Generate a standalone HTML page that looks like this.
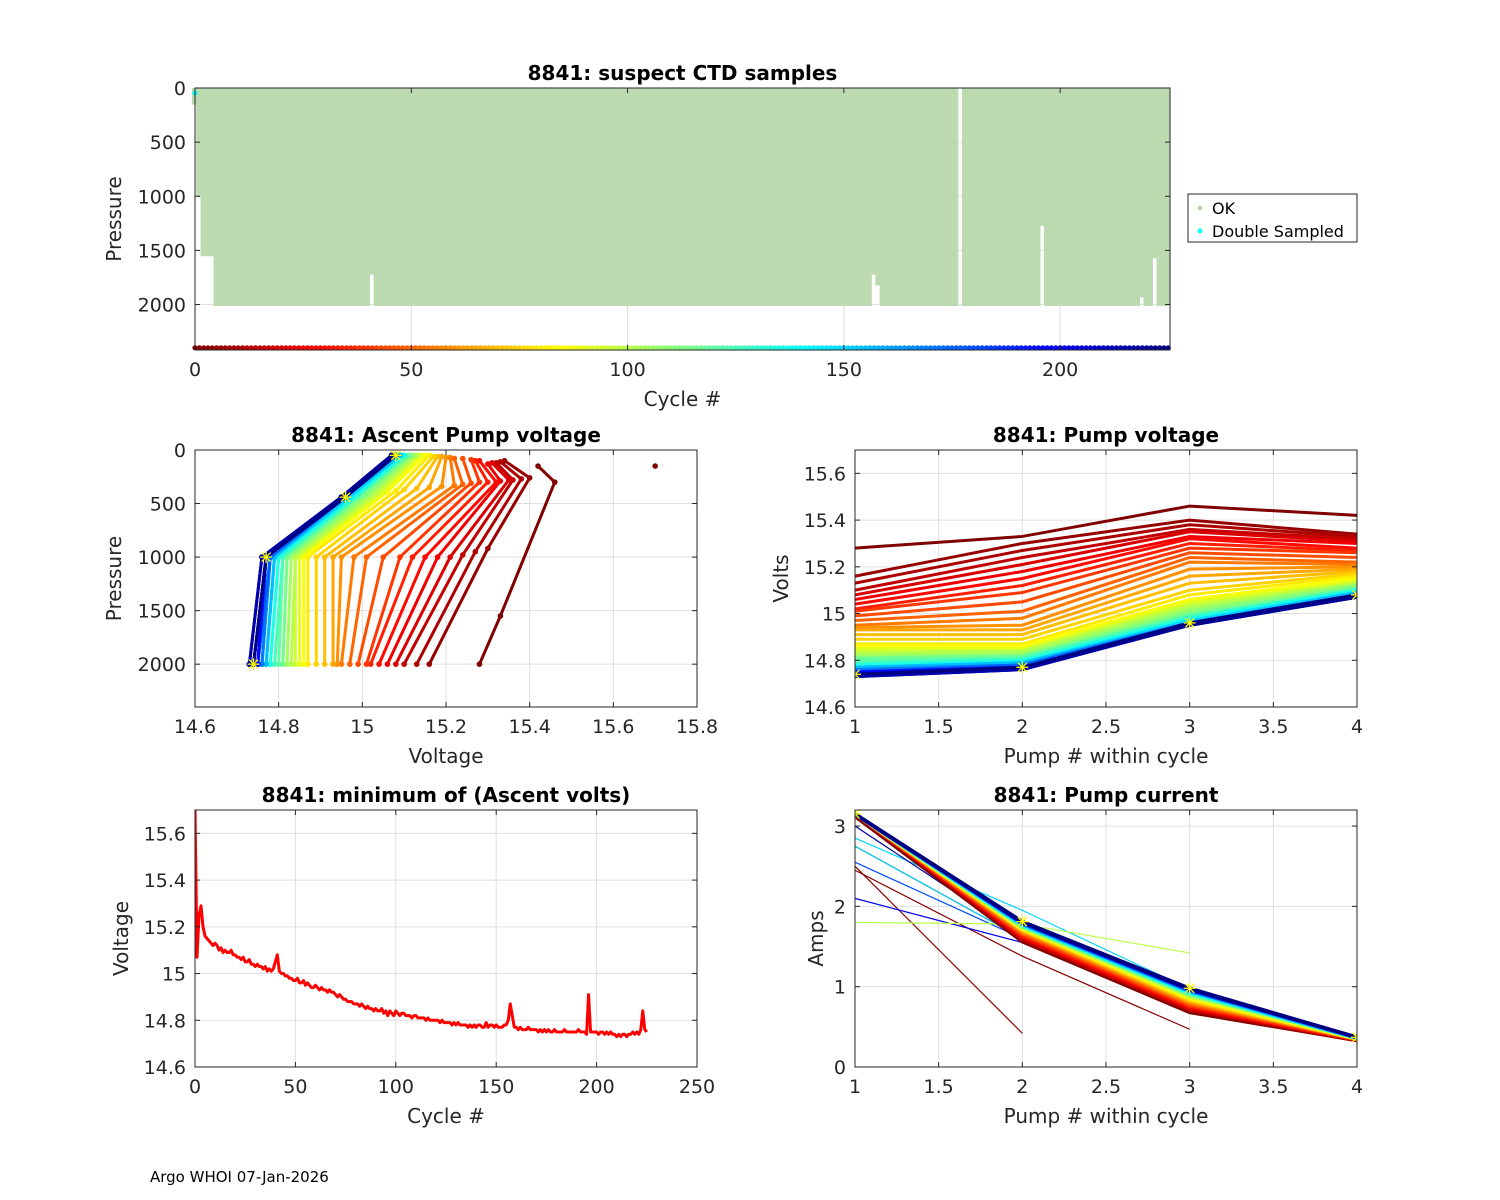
<!DOCTYPE html>
<html><head><meta charset="utf-8"><style>
html,body{margin:0;padding:0;background:#fff;}
svg{display:block;font-family:"DejaVu Sans","Liberation Sans",sans-serif;}
</style></head><body>
<svg id="fig" width="1500" height="1200" viewBox="0 0 1500 1200" xmlns="http://www.w3.org/2000/svg">
<rect width="1500" height="1200" fill="#fff"/>
<text x="150" y="1182" font-size="15" fill="#000">Argo WHOI 07-Jan-2026</text>
</svg>
<script>
// ---------------- DATA ----------------
const minVoltCycles = 226;
const minVolts = [
15.70,15.07,15.25,15.29,15.20,15.16,15.15,15.14,15.13,15.12,15.13,15.12,15.10,15.11,15.09,15.10,15.09,15.09,15.10,15.08,
15.08,15.07,15.07,15.06,15.07,15.05,15.05,15.06,15.04,15.04,15.03,15.04,15.03,15.03,15.02,15.03,15.01,15.02,15.01,15.02,
15.05,15.08,15.01,15.00,15.00,14.99,14.99,14.98,14.98,14.97,14.97,14.98,14.96,14.96,14.97,14.95,14.96,14.95,14.94,14.94,
14.95,14.94,14.93,14.94,14.93,14.93,14.92,14.93,14.92,14.92,14.91,14.90,14.91,14.90,14.89,14.89,14.88,14.88,14.88,14.87,
14.87,14.87,14.86,14.87,14.86,14.85,14.86,14.85,14.85,14.84,14.85,14.84,14.84,14.85,14.83,14.84,14.82,14.84,14.83,14.82,
14.84,14.83,14.82,14.83,14.83,14.82,14.82,14.82,14.81,14.82,14.82,14.81,14.81,14.81,14.81,14.80,14.81,14.80,14.80,14.80,
14.80,14.80,14.79,14.80,14.79,14.79,14.79,14.79,14.78,14.79,14.78,14.79,14.78,14.78,14.78,14.78,14.77,14.78,14.77,14.78,
14.77,14.78,14.78,14.77,14.77,14.79,14.77,14.78,14.78,14.77,14.78,14.77,14.77,14.77,14.78,14.78,14.80,14.87,14.82,14.77,
14.77,14.76,14.77,14.76,14.76,14.76,14.77,14.76,14.76,14.76,14.76,14.75,14.76,14.75,14.76,14.75,14.76,14.75,14.75,14.76,
14.75,14.75,14.75,14.75,14.76,14.75,14.75,14.75,14.75,14.75,14.75,14.76,14.75,14.75,14.75,14.74,14.91,14.75,14.75,14.75,
14.75,14.74,14.75,14.75,14.74,14.75,14.74,14.75,14.74,14.74,14.73,14.74,14.73,14.74,14.74,14.73,14.74,14.74,14.75,14.74,
14.75,14.74,14.76,14.84,14.76,14.75];

const maxPressureDefault = 2010;
const maxPressureExceptionCycles = [0, 1, 2, 3, 4, 41, 157, 158, 177, 196, 219, 222];
const maxPressureExceptionValues = [150, 1000, 1550, 1550, 1550, 1720, 1720, 1820, 0, 1270, 1930, 1570];
const doubleSampledCycles = [0];
const doubleSampledPressures = [140];

const pumpCycles = [0,5,10,15,20,25,30,35,40,45,50,55,60,65,70,75,80,85,90,95,100,105,110,115,120,125,130,135,140,145,150,155,160,165,170,175,180,185,190,195,200,205,210,215,220,225];
const pump1Volts = [15.28,15.16,15.13,15.10,15.08,15.06,15.04,15.02,15.01,14.99,14.97,14.95,14.94,14.93,14.91,14.89,14.87,14.86,14.85,14.84,14.83,14.82,14.81,14.81,14.80,14.79,14.78,14.78,14.77,14.77,14.77,14.77,14.76,14.76,14.76,14.75,14.75,14.75,14.75,14.75,14.74,14.74,14.73,14.73,14.74,14.74];
const pump2Volts = [15.33,15.30,15.27,15.24,15.21,15.18,15.15,15.12,15.09,15.05,15.01,14.98,14.95,14.93,14.91,14.89,14.87,14.86,14.85,14.84,14.84,14.83,14.82,14.82,14.81,14.81,14.80,14.80,14.79,14.79,14.79,14.79,14.78,14.78,14.78,14.78,14.77,14.77,14.77,14.77,14.77,14.77,14.76,14.76,14.77,14.77];
const pump3Volts = [15.46,15.40,15.38,15.36,15.35,15.33,15.32,15.30,15.28,15.26,15.24,15.22,15.19,15.16,15.13,15.10,15.08,15.06,15.05,15.04,15.03,15.02,15.01,15.00,14.99,14.99,14.98,14.98,14.97,14.97,14.97,14.96,14.96,14.96,14.96,14.96,14.95,14.95,14.95,14.95,14.95,14.95,14.95,14.95,14.95,14.96];
const pump4Volts = [15.42,15.34,15.33,15.32,15.31,15.30,15.28,15.27,15.26,15.24,15.22,15.21,15.20,15.19,15.18,15.17,15.16,15.15,15.14,15.13,15.13,15.12,15.12,15.11,15.11,15.10,15.10,15.10,15.09,15.09,15.09,15.09,15.08,15.08,15.08,15.08,15.08,15.08,15.08,15.08,15.07,15.07,15.07,15.07,15.07,15.08];
const pump1Pressure = [2000,2000,2000,2000,2000,2000,2000,2000,2000,2000,2000,2000,2000,2000,2000,2000,2000,2000,2000,2000,2000,2000,2000,2000,2000,2000,2000,2000,2000,2000,2000,2000,2000,2000,2000,2000,2000,2000,2000,2000,2000,2000,2000,2000,2000,2000];
const pump2Pressure = [1550,920,950,980,1000,1000,1000,1000,1000,1000,1000,1000,1000,1000,1000,1000,1000,1000,1000,1000,1000,1000,1000,1000,1000,1000,1000,1000,1000,1000,1000,1000,1000,1000,1000,1000,1000,1000,1000,1000,1000,1000,1000,1000,1000,1000];
const pump3Pressure = [300,260,270,280,280,290,300,300,300,310,320,330,340,350,360,370,380,390,400,400,410,410,420,420,430,430,430,440,440,440,440,440,440,440,440,440,440,440,440,440,440,440,440,440,440,440];
const pump4Pressure = [150,100,110,120,120,130,100,100,90,80,80,70,70,60,60,60,50,50,50,50,50,50,50,50,50,50,50,50,50,50,50,50,50,50,50,50,50,50,50,50,50,50,50,50,50,50];

const pump1Amps = [3.12,3.15,3.15,3.15,3.15,3.15,3.15,3.15,3.15,3.15,3.15,3.15,3.15,3.15,3.15,3.15,3.15,3.15,3.15,3.15,3.15,3.15,3.15,3.15,3.15,3.15,3.15,3.15,3.15,3.15,3.15,3.15,3.15,3.15,3.15,3.15,3.15,3.15,3.15,3.15,3.15,3.15,3.15,3.15,3.15,3.15];
const pump2Amps = [1.56,1.58,1.59,1.60,1.61,1.62,1.63,1.64,1.65,1.66,1.67,1.68,1.69,1.70,1.70,1.71,1.72,1.72,1.73,1.73,1.74,1.74,1.75,1.75,1.76,1.76,1.76,1.77,1.77,1.77,1.78,1.78,1.78,1.78,1.79,1.79,1.79,1.79,1.80,1.80,1.80,1.80,1.80,1.80,1.81,1.81];
const pump3Amps = [0.68,0.70,0.71,0.72,0.73,0.74,0.75,0.76,0.77,0.78,0.79,0.80,0.81,0.82,0.83,0.84,0.85,0.86,0.87,0.88,0.89,0.89,0.90,0.91,0.91,0.92,0.92,0.93,0.93,0.94,0.94,0.94,0.95,0.95,0.95,0.96,0.96,0.96,0.96,0.97,0.97,0.97,0.97,0.97,0.97,0.98];
const pump4Amps = [0.33,0.33,0.33,0.34,0.34,0.34,0.34,0.34,0.34,0.35,0.35,0.35,0.35,0.35,0.35,0.35,0.35,0.35,0.35,0.36,0.36,0.36,0.36,0.36,0.36,0.36,0.36,0.36,0.36,0.36,0.36,0.36,0.36,0.37,0.37,0.37,0.37,0.37,0.37,0.37,0.37,0.37,0.37,0.37,0.37,0.37];
const outlierAmpCycles = [1, 2, 3, 150, 150, 180, 200, 100, 220];
const outlierAmps1 = [2.50, 2.45, 2.75, 2.85, 2.75, 2.55, 2.10, 1.80, 3.00];
const outlierAmps2 = [0.42, 1.38, 1.60, 1.95, 1.60, 1.60, 1.55, 1.78, 1.62];
const outlierAmps3 = [null, 0.47, null, 0.97, null, null, null, 1.42, null];

// ---------------- HELPERS ----------------
const svg = document.getElementById('fig');
const NS = 'http://www.w3.org/2000/svg';
function el(tag, attrs, parent) {
  const e = document.createElementNS(NS, tag);
  for (const k in attrs) e.setAttribute(k, attrs[k]);
  (parent || svg).appendChild(e);
  return e;
}
function jet(t) {
  const c = v => Math.max(0, Math.min(1, v));
  const r = c(1.5 - Math.abs(4 * t - 3)), g = c(1.5 - Math.abs(4 * t - 2)), b = c(1.5 - Math.abs(4 * t - 1));
  return 'rgb(' + Math.round(r * 255) + ',' + Math.round(g * 255) + ',' + Math.round(b * 255) + ')';
}
function cycleColor(c) { return jet(1 - c / 225); }
function lin(d0, d1, r0, r1) { return v => r0 + (v - d0) / (d1 - d0) * (r1 - r0); }
function fmt(v) { return String(Math.round(v * 100) / 100); }

function axes(o) {
  const g = el('g', {});
  
  
  const sx = lin(o.xmin, o.xmax, o.x0, o.x0 + o.w);
  const sy = o.yrev ? lin(o.ymin, o.ymax, o.y0, o.y0 + o.h) : lin(o.ymin, o.ymax, o.y0 + o.h, o.y0);
  const grid = el('g', {}, g);
  
  
  o.xticks.forEach(t => el('line', {x1: sx(t), x2: sx(t), y1: o.y0, y2: o.y0 + o.h, stroke: '#dfdfdf', 'stroke-width': 1}, grid));
  o.yticks.forEach(t => el('line', {x1: o.x0, x2: o.x0 + o.w, y1: sy(t), y2: sy(t), stroke: '#dfdfdf', 'stroke-width': 1}, grid));
  const clipId = 'clip-' + o.name;
  const cp = el('clipPath', {id: clipId}, g);
  el('rect', {x: o.x0, y: o.y0, width: o.w, height: o.h}, cp);
  const plot = el('g', {'clip-path': 'url(#' + clipId + ')'}, g);
  
  
  const frame = el('g', {}, g);
  return {g, sx, sy, plot, frame, o};
}
function finishAxes(A) {
  const o = A.o, g = A.frame;
  el('rect', {x: o.x0, y: o.y0, width: o.w, height: o.h, fill: 'none', stroke: '#262626', 'stroke-width': 1}, g);
  o.xticks.forEach((t, i) => {
    const x = A.sx(t);
    el('line', {x1: x, x2: x, y1: o.y0 + o.h, y2: o.y0 + o.h - 5, stroke: '#262626'}, g);
    el('line', {x1: x, x2: x, y1: o.y0, y2: o.y0 + 5, stroke: '#262626'}, g);
    const tx = el('text', {x: x, y: o.y0 + o.h + 26, 'font-size': 19, 'text-anchor': 'middle', fill: '#262626'}, g);
    tx.textContent = fmt(t);
    
    
  });
  o.yticks.forEach((t, i) => {
    const y = A.sy(t);
    el('line', {x1: o.x0, x2: o.x0 + 5, y1: y, y2: y, stroke: '#262626'}, g);
    el('line', {x1: o.x0 + o.w, x2: o.x0 + o.w - 5, y1: y, y2: y, stroke: '#262626'}, g);
    const tx = el('text', {x: o.x0 - 9, y: y + 7, 'font-size': 19, 'text-anchor': 'end', fill: '#262626'}, g);
    tx.textContent = fmt(t);
    
    
  });
  const ti = el('text', {x: o.x0 + o.w / 2, y: o.y0 - 8, 'font-size': 20, 'font-weight': 'bold', 'text-anchor': 'middle', fill: '#000'}, g);
  ti.textContent = o.title;
  
  
  const xl = el('text', {x: o.x0 + o.w / 2, y: o.y0 + o.h + 56, 'font-size': 20, 'text-anchor': 'middle', fill: '#262626'}, g);
  xl.textContent = o.xlabel;
  
  
  const yl = el('text', {x: 0, y: 0, 'font-size': 20, 'text-anchor': 'middle', fill: '#262626', transform: 'translate(' + o.ylx + ',' + (o.y0 + o.h / 2) + ') rotate(-90)'}, g);
  yl.textContent = o.ylabel;
  
  
}
function star(parent, x, y) {
  const s = el('g', {stroke: '#ffff00', 'stroke-width': 1.3}, parent);
  
  
  el('line', {x1: x - 6, x2: x + 6, y1: y, y2: y}, s);
  el('line', {x1: x, x2: x, y1: y - 6, y2: y + 6}, s);
  el('line', {x1: x - 4.5, x2: x + 4.5, y1: y - 4.5, y2: y + 4.5}, s);
  el('line', {x1: x - 4.5, x2: x + 4.5, y1: y + 4.5, y2: y - 4.5}, s);
}

// ---------------- TOP: suspect CTD samples ----------------
(function () {
  const A = axes({name: 'suspect-ctd-chart', x0: 195, y0: 88, w: 975, h: 262, xmin: 0, xmax: 225.4, ymin: 0, ymax: 2420, yrev: true,
    xticks: [0, 50, 100, 150, 200], yticks: [0, 500, 1000, 1500, 2000], title: '8841: suspect CTD samples', xlabel: 'Cycle #', ylabel: 'Pressure', ylx: 121});
  const clip = svg.querySelector('#clip-suspect-ctd-chart rect');
  clip.setAttribute('x', 190); clip.setAttribute('width', 985);
  for (let c = 0; c < minVoltCycles; c++) {
    const idx = maxPressureExceptionCycles.indexOf(c);
    const mp = idx >= 0 ? maxPressureExceptionValues[idx] : maxPressureDefault;
    if (mp <= 0) continue;
    const r = el('rect', {x: A.sx(c) - 2.7, y: A.sy(0) - 2, width: 4.3, height: A.sy(mp) - A.sy(0) + 2, fill: '#bcdab0', stroke: '#bcdab0', 'stroke-width': 0.8}, A.plot);
    
    
  }
  doubleSampledCycles.forEach((c, i) => {
    const d = el('circle', {cx: A.sx(c), cy: A.sy(doubleSampledPressures[i]) - 10, r: 2.5, fill: '#00ffff'}, A.plot);
    
    
  });
  for (let c = 0; c < minVoltCycles; c++) {
    const d = el('circle', {cx: A.sx(c), cy: A.sy(2400), r: 2.6, fill: cycleColor(c)}, A.plot);
    
    
  }
  finishAxes(A);
  const lg = el('g', {});
  
  
  el('rect', {x: 1188, y: 194, width: 169, height: 48, fill: '#fff', stroke: '#262626'}, lg);
  el('circle', {cx: 1200, cy: 208, r: 2.5, fill: '#bcdab0'}, lg);
  const t1 = el('text', {x: 1212, y: 214, 'font-size': 16, fill: '#000'}, lg); t1.textContent = 'OK';
  
  
  el('circle', {cx: 1200, cy: 231, r: 2.5, fill: '#00ffff'}, lg);
  const t2 = el('text', {x: 1212, y: 237, 'font-size': 16, fill: '#000'}, lg); t2.textContent = 'Double Sampled';
  
  
})();

// ---------------- MIDDLE LEFT: Ascent pump voltage ----------------
(function () {
  const A = axes({name: 'ascent-pump-voltage-chart', x0: 195, y0: 450, w: 502, h: 257, xmin: 14.6, xmax: 15.8, ymin: 0, ymax: 2400, yrev: true,
    xticks: [14.6, 14.8, 15, 15.2, 15.4, 15.6, 15.8], yticks: [0, 500, 1000, 1500, 2000], title: '8841: Ascent Pump voltage', xlabel: 'Voltage', ylabel: 'Pressure', ylx: 121});
  pumpCycles.forEach((c, i) => {
    const V = [pump1Volts[i], pump2Volts[i], pump3Volts[i], pump4Volts[i]];
    const P = [pump1Pressure[i], pump2Pressure[i], pump3Pressure[i], pump4Pressure[i]];
    const pts = V.map((v, k) => A.sx(v) + ',' + A.sy(P[k])).join(' ');
    const col = cycleColor(c);
    const pl = el('polyline', {points: pts, fill: 'none', stroke: col, 'stroke-width': 3}, A.plot);
    
    
    V.forEach((v, k) => {
      const d = el('circle', {cx: A.sx(v), cy: A.sy(P[k]), r: 2.8, fill: col}, A.plot);
      
      
    });
  });
  const li = pumpCycles.length - 1;
  [[pump1Volts[li], pump1Pressure[li]], [pump2Volts[li], pump2Pressure[li]], [pump3Volts[li], pump3Pressure[li]], [pump4Volts[li], pump4Pressure[li]]]
    .forEach(p => star(A.plot, A.sx(p[0]), A.sy(p[1])));
  const od = el('circle', {cx: A.sx(minVolts[0]), cy: A.sy(150), r: 2.8, fill: cycleColor(0)}, A.plot);
  
  
  finishAxes(A);
})();

// ---------------- MIDDLE RIGHT: Pump voltage ----------------
(function () {
  const A = axes({name: 'pump-voltage-chart', x0: 855, y0: 450, w: 502, h: 257, xmin: 1, xmax: 4, ymin: 14.6, ymax: 15.7, yrev: false,
    xticks: [1, 1.5, 2, 2.5, 3, 3.5, 4], yticks: [14.6, 14.8, 15, 15.2, 15.4, 15.6], title: '8841: Pump voltage', xlabel: 'Pump # within cycle', ylabel: 'Volts', ylx: 788});
  pumpCycles.forEach((c, i) => {
    const V = [pump1Volts[i], pump2Volts[i], pump3Volts[i], pump4Volts[i]];
    const pts = V.map((v, k) => A.sx(k + 1) + ',' + A.sy(v)).join(' ');
    const pl = el('polyline', {points: pts, fill: 'none', stroke: cycleColor(c), 'stroke-width': 3}, A.plot);
    
    
  });
  const li = pumpCycles.length - 1;
  [pump1Volts[li], pump2Volts[li], pump3Volts[li], pump4Volts[li]].forEach((v, k) => star(A.plot, A.sx(k + 1), A.sy(v)));
  finishAxes(A);
})();

// ---------------- BOTTOM LEFT: minimum ascent volts ----------------
(function () {
  const A = axes({name: 'min-ascent-volts-chart', x0: 195, y0: 810, w: 502, h: 257, xmin: 0, xmax: 250, ymin: 14.6, ymax: 15.7, yrev: false,
    xticks: [0, 50, 100, 150, 200, 250], yticks: [14.6, 14.8, 15, 15.2, 15.4, 15.6], title: '8841: minimum of (Ascent volts)', xlabel: 'Cycle #', ylabel: 'Voltage', ylx: 128});
  const pts = minVolts.map((v, c) => A.sx(c) + ',' + A.sy(v)).join(' ');
  const pl = el('polyline', {points: pts, fill: 'none', stroke: '#ff0000', 'stroke-width': 3, 'stroke-linejoin': 'round'}, A.plot);
  
  
  finishAxes(A);
})();

// ---------------- BOTTOM RIGHT: Pump current ----------------
(function () {
  const A = axes({name: 'pump-current-chart', x0: 855, y0: 810, w: 502, h: 257, xmin: 1, xmax: 4, ymin: 0, ymax: 3.2, yrev: false,
    xticks: [1, 1.5, 2, 2.5, 3, 3.5, 4], yticks: [0, 1, 2, 3], title: '8841: Pump current', xlabel: 'Pump # within cycle', ylabel: 'Amps', ylx: 823});
  outlierAmpCycles.forEach((c, i) => {
    const vals = [outlierAmps1[i], outlierAmps2[i], outlierAmps3[i]].filter(v => v !== null);
    const pts = vals.map((v, k) => A.sx(k + 1) + ',' + A.sy(v)).join(' ');
    const pl = el('polyline', {points: pts, fill: 'none', stroke: cycleColor(c), 'stroke-width': 1.2}, A.plot);
    
    
  });
  pumpCycles.forEach((c, i) => {
    const V = [pump1Amps[i], pump2Amps[i], pump3Amps[i], pump4Amps[i]];
    const pts = V.map((v, k) => A.sx(k + 1) + ',' + A.sy(v)).join(' ');
    const pl = el('polyline', {points: pts, fill: 'none', stroke: cycleColor(c), 'stroke-width': 3.5}, A.plot);
    
    
  });
  const li = pumpCycles.length - 1;
  [pump1Amps[li], pump2Amps[li], pump3Amps[li], pump4Amps[li]].forEach((v, k) => star(A.plot, A.sx(k + 1), A.sy(v)));
  finishAxes(A);
})();
</script>
</body></html>
